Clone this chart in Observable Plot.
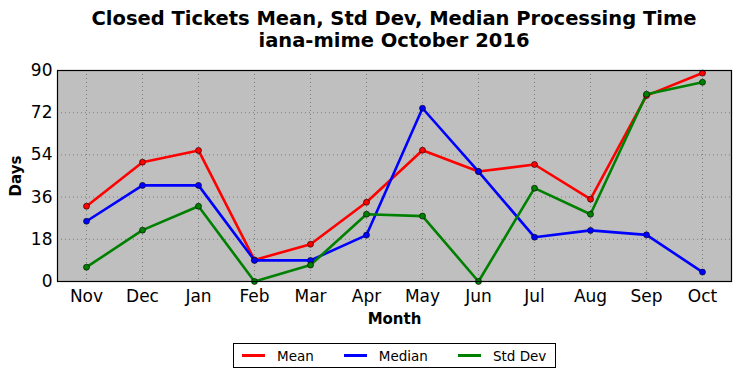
<!DOCTYPE html>
<html><head><meta charset="utf-8">
<script src="https://cdn.jsdelivr.net/npm/d3@7"></script>
<script src="https://cdn.jsdelivr.net/npm/@observablehq/plot@0.6"></script>
<style>
body{margin:0;background:#fff;font-family:"DejaVu Sans",sans-serif;}
#wrap{position:relative;width:741px;height:378px;overflow:hidden;}
#title{position:absolute;left:47px;width:694px;top:8px;text-align:center;font-weight:bold;font-size:19.5px;line-height:22px;color:#000;}
#chart{position:absolute;left:0;top:60px;}
#ylab{position:absolute;left:16px;top:176px;transform:translate(-50%,-50%) rotate(-90deg);font-weight:bold;font-size:15px;}
#legend{position:absolute;left:233px;top:343px;width:321px;height:23px;border:1px solid #000;display:flex;align-items:center;font-size:13.5px;box-sizing:content-box;white-space:nowrap;}
.item{display:flex;align-items:center;}
.sw{display:inline-block;width:23px;height:3px;margin:0 12px 0 8px;}
</style></head>
<body><div id="wrap">
<div id="title">Closed Tickets Mean, Std Dev, Median Processing Time<br>iana-mime October 2016</div>
<div id="chart"></div>
<div id="ylab">Days</div>
<div id="legend"></div>
</div>
<script>
const months = ["Nov","Dec","Jan","Feb","Mar","Apr","May","Jun","Jul","Aug","Sep","Oct"];
const meanVals = [32.1, 50.9, 55.9, 9.2, 15.9, 33.8, 56.0, 46.9, 49.9, 35.1, 79.3, 88.9];
const medianVals = [25.7, 41.0, 41.0, 9.0, 9.0, 19.8, 73.9, 46.9, 18.9, 21.8, 19.9, 4.0];
const stdVals = [6.1, 21.9, 32.1, 0.0, 7.0, 28.7, 27.9, 0.0, 39.8, 28.7, 79.9, 85.0];
const yTicks = [0, 18, 36, 54, 72, 90];
const seriesNames = ["Mean", "Median", "Std Dev"];
const seriesColors = ["#ff0000", "#0000ff", "#008000"];

const valueSets = [meanVals, medianVals, stdVals];
const data = [];
seriesNames.forEach((s, i) => months.forEach((m, j) => data.push({series: s, month: m, value: valueSets[i][j]})));

const plot = Plot.plot({
  width: 741,
  height: 270,
  marginLeft: 57,
  marginRight: 10,
  marginTop: 10,
  marginBottom: 49,
  style: {fontFamily: "DejaVu Sans, sans-serif", fontSize: "17px", color: "#000", background: "transparent", overflow: "visible"},
  x: {type: "point", domain: months, padding: 0.5, label: null},
  y: {domain: [0, 90], label: null},
  color: {domain: seriesNames, range: seriesColors},
  marks: [
    Plot.frame({fill: "#bfbfbf"}),
    Plot.gridX({stroke: "#555", strokeOpacity: 0.6, strokeDasharray: "1,3"}),
    Plot.gridY(yTicks, {stroke: "#555", strokeOpacity: 0.6, strokeDasharray: "1,3"}),
    Plot.axisX({anchor: "bottom", tickSize: 0, tickPadding: 8, fontSize: 17, label: "Month", labelAnchor: "center", labelOffset: 42}),
    Plot.axisY(yTicks, {anchor: "left", tickSize: 0, tickPadding: 5, fontSize: 17, label: null}),
    Plot.line(data, {x: "month", y: "value", z: "series", stroke: "series", strokeWidth: 2.6}),
    Plot.dot(data, {x: "month", y: "value", fill: "series", stroke: "#000", strokeWidth: 0.6, r: 3}),
    Plot.frame({stroke: "#000", strokeWidth: 1.2})
  ]
});
document.getElementById("chart").appendChild(plot);
d3.select(plot).selectAll("[aria-label='x-axis label'] text, [aria-label='x-axis label']").style("font-weight", "bold").style("font-size", "15px");

const leg = document.getElementById("legend");
seriesNames.forEach((s, i) => {
  const it = document.createElement("div");
  it.className = "item";
  it.style.marginRight = i < 2 ? "22px" : "0";
  it.innerHTML = `<span class="sw" style="background:${seriesColors[i]}"></span><span>${s}</span>`;
  leg.appendChild(it);
});
</script>
</body></html>
